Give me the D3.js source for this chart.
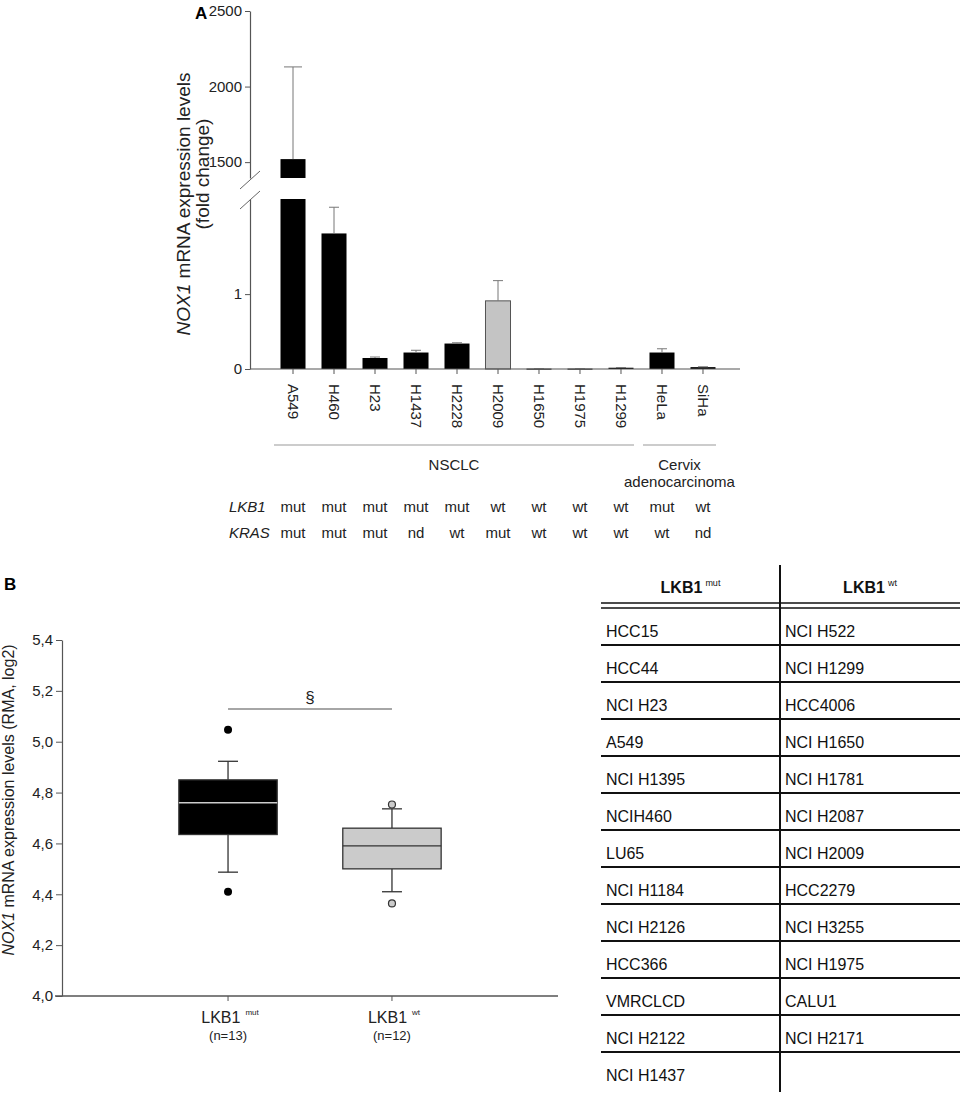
<!DOCTYPE html>
<html>
<head>
<meta charset="utf-8">
<script src="https://cdn.jsdelivr.net/npm/d3@7"></script>
<style>
  body { margin: 0; background: #fff; }
  svg { font-family: "Liberation Sans", Arial, sans-serif; display: block; }
</style>
</head>
<body>
<div id="chart"></div>
<script>
// Panel A data
const cellLines = ['A549', 'H460', 'H23', 'H1437', 'H2228', 'H2009', 'H1650', 'H1975', 'H1299', 'HeLa', 'SiHa'];
const foldChange = [1520, 1.81, 0.147, 0.22, 0.34, 0.91, 0.005, 0.005, 0.017, 0.22, 0.025];
const foldChangeErr = [610, 0.35, 0.013, 0.03, 0.01, 0.27, 0.001, 0.001, 0.003, 0.05, 0.005];
const greyLines = ['H2009'];
const lkb1Status = ['mut', 'mut', 'mut', 'mut', 'mut', 'wt', 'wt', 'wt', 'wt', 'mut', 'wt'];
const krasStatus = ['mut', 'mut', 'mut', 'nd', 'wt', 'mut', 'wt', 'wt', 'wt', 'wt', 'nd'];
const tumourGroups = [
  { name: ['NSCLC'], from: 'A549', to: 'H1299' },
  { name: ['Cervix', 'adenocarcinoma'], from: 'HeLa', to: 'SiHa' }
];
const upperTicks = [1500, 2000, 2500];
const lowerTicks = [0, 1];

// Panel B data
const boxGroups = ['mut', 'wt'];
const boxN = [13, 12];
const q1Vals = [4.635, 4.50];
const medianVals = [4.76, 4.59];
const q3Vals = [4.85, 4.66];
const whiskerLo = [4.487, 4.41];
const whiskerHi = [4.923, 4.736];
const outliers = [[5.047, 4.41], [4.753, 4.364]];
const boxTicks = [4.0, 4.2, 4.4, 4.6, 4.8, 5.0, 5.2, 5.4];

// Table data
const lkb1MutLines = ['HCC15', 'HCC44', 'NCI H23', 'A549', 'NCI H1395', 'NCIH460', 'LU65', 'NCI H1184', 'NCI H2126', 'HCC366', 'VMRCLCD', 'NCI H2122', 'NCI H1437'];
const lkb1WtLines = ['NCI H522', 'NCI H1299', 'HCC4006', 'NCI H1650', 'NCI H1781', 'NCI H2087', 'NCI H2009', 'HCC2279', 'NCI H3255', 'NCI H1975', 'CALU1', 'NCI H2171'];

const svg = d3.select('#chart').append('svg')
  .attr('width', 965)
  .attr('height', 1099);

const axisCol = '#555';
const fs = 15;

// style an axis group so that it uses the page font
function styleAxis(ax, labelX) {
  ax.attr('font-family', null).attr('font-size', null);
  ax.select('.domain').attr('stroke', axisCol).attr('stroke-width', 1.2);
  ax.selectAll('.tick line').attr('stroke', axisCol);
  ax.selectAll('.tick text').attr('font-size', fs).attr('fill', '#222');
  if (labelX !== undefined) ax.selectAll('.tick text').attr('x', labelX);
}

// ---------- Panel A ----------
const gA = svg.append('g');
gA.append('text').attr('x', 195).attr('y', 19).attr('font-weight', 'bold').attr('font-size', 17).text('A');

const x = d3.scaleBand().domain(cellLines).range([280.5, 715.5]).paddingInner(0.39).paddingOuter(0);
const yUp = d3.scaleLinear().domain([1395, 2500]).range([178, 11]);
const yLo = d3.scaleLinear().domain([0, 2.27]).range([369, 199]);

// Y axis (broken)
const axUp = gA.append('g').attr('transform', 'translate(250,0)')
  .call(d3.axisLeft(yUp).tickValues(upperTicks).tickSize(5).tickSizeOuter(0).tickFormat(d3.format('d')));
const axLo = gA.append('g').attr('transform', 'translate(250,0)')
  .call(d3.axisLeft(yLo).tickValues(lowerTicks).tickSize(5).tickSizeOuter(0).tickFormat(d3.format('d')));
styleAxis(axUp, -8);
styleAxis(axLo, -8);
// break marks
gA.append('line').attr('x1', 240).attr('y1', 189).attr('x2', 260).attr('y2', 171).attr('stroke', '#666');
gA.append('line').attr('x1', 240).attr('y1', 209).attr('x2', 260).attr('y2', 191).attr('stroke', '#666');

// Y label
const yLab = gA.append('text').attr('transform', 'translate(190,204) rotate(-90)')
  .attr('text-anchor', 'middle').attr('font-size', 19).attr('fill', '#222');
yLab.append('tspan').attr('font-style', 'italic').text('NOX1');
yLab.append('tspan').text(' mRNA expression levels');
gA.append('text').attr('transform', 'translate(209,174) rotate(-90)')
  .attr('text-anchor', 'middle').attr('font-size', 19).attr('fill', '#222').text('(fold change)');

// Bars
const bw = x.bandwidth();
cellLines.forEach((c, i) => {
  const v = foldChange[i];
  const grey = greyLines.includes(c);
  const fill = grey ? '#c4c4c4' : '#000';
  const cx = x(c) + bw / 2;
  if (v > yLo.domain()[1]) {
    // broken bar: full lower segment + upper segment
    gA.append('rect').attr('x', x(c)).attr('width', bw).attr('y', yLo.range()[1])
      .attr('height', yLo(0) - yLo.range()[1]).attr('fill', fill);
    gA.append('rect').attr('x', x(c)).attr('width', bw).attr('y', yUp(v))
      .attr('height', yUp.range()[0] - yUp(v)).attr('fill', fill);
    const top = yUp(v + foldChangeErr[i]);
    gA.append('line').attr('x1', cx).attr('x2', cx).attr('y1', yUp(v)).attr('y2', top).attr('stroke', '#777');
    gA.append('line').attr('x1', cx - 9).attr('x2', cx + 9).attr('y1', top).attr('y2', top).attr('stroke', '#777');
  } else {
    gA.append('rect').attr('x', x(c)).attr('width', bw).attr('y', yLo(v))
      .attr('height', Math.max(yLo(0) - yLo(v), 1)).attr('fill', fill)
      .attr('stroke', grey ? '#555' : 'none').attr('stroke-width', 1);
    const top = yLo(v + foldChangeErr[i]);
    if (yLo(v) - top > 0.5) {
      gA.append('line').attr('x1', cx).attr('x2', cx).attr('y1', yLo(v)).attr('y2', top).attr('stroke', '#777');
    }
    gA.append('line').attr('x1', cx - 5).attr('x2', cx + 5).attr('y1', top).attr('y2', top).attr('stroke', '#777');
  }
});

// X axis
const axX = gA.append('g').attr('transform', 'translate(0,369)')
  .call(d3.axisBottom(x).tickSize(5).tickSizeOuter(0).tickFormat(''));
styleAxis(axX);
axX.select('.domain').attr('d', 'M250,0H740');

// rotated cell line labels
cellLines.forEach(c => {
  gA.append('text')
    .attr('transform', `translate(${x(c) + bw / 2 - 5},384) rotate(90)`)
    .attr('font-size', fs).attr('fill', '#222').text(c);
});

// tumour group brackets
tumourGroups.forEach(g => {
  const x0 = x(g.from) + bw / 2 - 19;
  const x1 = x(g.to) + bw / 2 + 13;
  gA.append('line').attr('x1', x0).attr('x2', x1).attr('y1', 445).attr('y2', 445)
    .attr('stroke', '#999').attr('stroke-width', 1.2);
  g.name.forEach((t, k) => {
    gA.append('text').attr('x', (x0 + x1) / 2).attr('y', 470 + k * 17)
      .attr('text-anchor', 'middle').attr('font-size', fs).attr('fill', '#222').text(t);
  });
});

// status rows
[['LKB1', lkb1Status, 512], ['KRAS', krasStatus, 538]].forEach(([name, arr, yy]) => {
  gA.append('text').attr('x', 229).attr('y', yy).attr('font-size', fs)
    .attr('font-style', 'italic').attr('fill', '#222').text(name);
  arr.forEach((s, i) => {
    gA.append('text').attr('x', x(cellLines[i]) + bw / 2).attr('y', yy)
      .attr('text-anchor', 'middle').attr('font-size', fs).attr('fill', '#222').text(s);
  });
});

// ---------- Panel B ----------
const gB = svg.append('g');
gB.append('text').attr('x', 4).attr('y', 590).attr('font-weight', 'bold').attr('font-size', 17).text('B');

const xb = d3.scaleBand().domain(boxGroups).range([60, 560]).paddingInner(0.4).paddingOuter(0.725);
const yb = d3.scaleLinear().domain([4.0, 5.4]).range([996, 640]);

const axYB = gB.append('g').attr('transform', 'translate(62,0)')
  .call(d3.axisLeft(yb).tickValues(boxTicks).tickSize(6).tickSizeOuter(0)
    .tickFormat(d => d3.format('.1f')(d).replace('.', ',')));
styleAxis(axYB, -9);

const axXB = gB.append('g').attr('transform', 'translate(0,996)')
  .call(d3.axisBottom(xb).tickSize(5).tickSizeOuter(0).tickFormat(''));
styleAxis(axXB);
axXB.select('.domain').attr('d', 'M55,0H558').attr('stroke-width', 1.5);

const ybLab = gB.append('text').attr('transform', 'translate(14,800) rotate(-90)')
  .attr('text-anchor', 'middle').attr('font-size', 16).attr('fill', '#222');
ybLab.append('tspan').attr('font-style', 'italic').text('NOX1');
ybLab.append('tspan').text(' mRNA expression levels (RMA, log2)');

const bbw = xb.bandwidth();
boxGroups.forEach((g, i) => {
  const cx = xb(g) + bbw / 2;
  const dark = i === 0;
  const fill = dark ? '#000' : '#cbcbcb';
  // whiskers
  [[q3Vals[i], whiskerHi[i]], [q1Vals[i], whiskerLo[i]]].forEach(([a, b]) => {
    gB.append('line').attr('x1', cx).attr('x2', cx).attr('y1', yb(a)).attr('y2', yb(b))
      .attr('stroke', '#333').attr('stroke-width', 1.3);
    gB.append('line').attr('x1', cx - 10).attr('x2', cx + 10).attr('y1', yb(b)).attr('y2', yb(b))
      .attr('stroke', '#333').attr('stroke-width', 1.3);
  });
  gB.append('rect').attr('x', xb(g)).attr('width', bbw)
    .attr('y', yb(q3Vals[i])).attr('height', yb(q1Vals[i]) - yb(q3Vals[i]))
    .attr('fill', fill).attr('stroke', '#333').attr('stroke-width', 1.3);
  gB.append('line').attr('x1', xb(g)).attr('x2', xb(g) + bbw)
    .attr('y1', yb(medianVals[i])).attr('y2', yb(medianVals[i]))
    .attr('stroke', dark ? '#ccc' : '#333').attr('stroke-width', 1.3);
  outliers[i].forEach(o => {
    gB.append('circle').attr('cx', cx).attr('cy', yb(o)).attr('r', dark ? 4 : 3.5)
      .attr('fill', dark ? '#000' : '#cbcbcb').attr('stroke', '#333').attr('stroke-width', dark ? 0 : 1.2);
  });
  const lab = gB.append('text').attr('x', cx + 2).attr('y', 1023)
    .attr('text-anchor', 'middle').attr('font-size', 16).attr('fill', '#222');
  lab.append('tspan').text('LKB1');
  lab.append('tspan').attr('font-size', 8).attr('dx', 5).attr('dy', -8).text(g);
  gB.append('text').attr('x', cx).attr('y', 1040).attr('text-anchor', 'middle')
    .attr('font-size', 13).attr('fill', '#222').text(`(n=${boxN[i]})`);
});

// significance
const sx0 = xb('mut') + bbw / 2, sx1 = xb('wt') + bbw / 2;
gB.append('line').attr('x1', sx0).attr('x2', sx1).attr('y1', 709).attr('y2', 709)
  .attr('stroke', '#888').attr('stroke-width', 1.3);
gB.append('text').attr('x', (sx0 + sx1) / 2).attr('y', 703).attr('text-anchor', 'middle')
  .attr('font-size', 17).attr('fill', '#222').text('§');

// ---------- Table ----------
const gT = svg.append('g');
const nRows = Math.max(lkb1MutLines.length, lkb1WtLines.length);
const rowY = d3.scaleLinear().domain([0, 1]).range([608, 645]);
const colX = [606, 785];
const tblL = 601, tblR = 960, tblMid = 780;

gT.append('line').attr('x1', tblMid).attr('x2', tblMid).attr('y1', 565).attr('y2', 1092)
  .attr('stroke', '#111').attr('stroke-width', 2);
[603, 608].forEach(yy => gT.append('line').attr('x1', tblL).attr('x2', tblR)
  .attr('y1', yy).attr('y2', yy).attr('stroke', '#111').attr('stroke-width', 1.6));

[['mut', (tblL + tblMid) / 2], ['wt', (tblMid + tblR) / 2]].forEach(([s, cx]) => {
  const t = gT.append('text').attr('x', cx).attr('y', 593).attr('text-anchor', 'middle')
    .attr('font-size', 16).attr('font-weight', 'bold').attr('fill', '#111');
  t.append('tspan').text('LKB1');
  t.append('tspan').attr('font-size', 9).attr('font-weight', 'normal').attr('dx', 3).attr('dy', -7).text(s);
});

d3.range(nRows).forEach(r => {
  if (r < nRows - 1) {
    gT.append('line').attr('x1', tblL).attr('x2', tblR)
      .attr('y1', rowY(r + 1)).attr('y2', rowY(r + 1))
      .attr('stroke', '#111').attr('stroke-width', 2);
  }
  [lkb1MutLines[r], lkb1WtLines[r]].forEach((name, c) => {
    if (!name) return;
    gT.append('text').attr('x', colX[c]).attr('y', rowY(r) + 29)
      .attr('font-size', 16).attr('fill', '#111').text(name);
  });
});
</script>
</body>
</html>
